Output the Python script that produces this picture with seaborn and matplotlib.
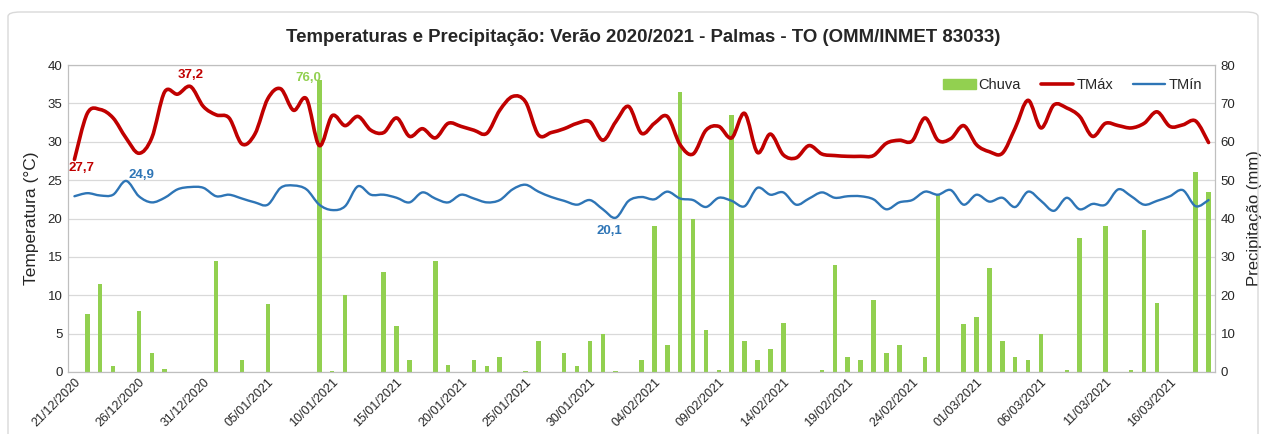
import numpy as np
import pandas as pd
import matplotlib
matplotlib.use('Agg')
import matplotlib.pyplot as plt
import seaborn as sns
from matplotlib.patches import Patch, FancyBboxPatch, PathPatch
from matplotlib.lines import Line2D
from matplotlib.path import Path

# Dias do verão 2020/2021 (21/12/2020 a 19/03/2021)
datas = pd.date_range('2020-12-21', '2021-03-19', freq='D')

# Temperatura máxima diária (°C)
tmax = [27.7, 33.7, 34.2, 33.1, 30.5, 28.5, 30.5, 36.5, 36.2, 37.2,
        34.6, 33.5, 33.1, 29.7, 31.0, 35.6, 36.9, 34.1, 35.6, 29.5,
        33.4, 32.1, 33.3, 31.5, 31.2, 33.1, 30.7, 31.7, 30.5, 32.4,
        32.0, 31.5, 31.1, 34.1, 35.9, 35.2, 30.9, 31.2, 31.7, 32.4,
        32.6, 30.2, 32.6, 34.6, 31.1, 32.4, 33.3, 29.6, 28.4, 31.5,
        32.0, 30.5, 33.7, 28.6, 31.0, 28.3, 27.9, 29.5, 28.4, 28.2,
        28.1, 28.1, 28.2, 29.8, 30.2, 30.1, 33.1, 30.2, 30.4, 32.1,
        29.6, 28.7, 28.5, 31.8, 35.4, 31.8, 34.8, 34.4, 33.3, 30.7,
        32.4, 32.1, 31.8, 32.4, 33.9, 32.0, 32.2, 32.7, 29.9]

# Temperatura mínima diária (°C)
tmin = [22.9, 23.3, 23.0, 23.1, 24.9, 22.9, 22.1, 22.7, 23.8, 24.1,
        24.0, 22.9, 23.1, 22.6, 22.1, 21.8, 24.0, 24.3, 23.8, 21.8,
        21.1, 21.6, 24.2, 23.1, 23.1, 22.7, 22.1, 23.4, 22.6, 22.1,
        23.1, 22.6, 22.1, 22.4, 23.8, 24.4, 23.5, 22.8, 22.3, 21.8,
        22.4, 21.2, 20.1, 22.3, 22.8, 22.5, 23.5, 22.6, 22.4, 21.5,
        22.7, 22.3, 21.6, 24.0, 23.1, 23.4, 21.8, 22.6, 23.4, 22.7,
        22.9, 22.9, 22.5, 21.2, 22.1, 22.4, 23.5, 23.1, 23.7, 21.8,
        23.1, 22.2, 22.7, 21.5, 23.5, 22.3, 21.0, 22.7, 21.2, 21.9,
        21.8, 23.8, 22.9, 21.8, 22.3, 22.9, 23.7, 21.6, 22.4]

# Chuva diária (mm)
chuva = [0, 15.0, 23.0, 1.6, 0, 16.0, 5.0, 0.8, 0, 0,
         0, 29.0, 0, 3.0, 0, 17.8, 0, 0, 0, 76.0,
         0.2, 20.0, 0, 0, 26.0, 12.0, 3.0, 0, 29.0, 1.8,
         0, 3.0, 1.6, 4.0, 0, 0.2, 8.2, 0, 5.0, 1.6,
         8.0, 9.8, 0.2, 0, 3.0, 38.0, 7.0, 73.0, 40.0, 11.0,
         0.6, 67.0, 8.0, 3.0, 6.0, 12.8, 0, 0, 0.6, 28.0,
         4.0, 3.0, 18.8, 5.0, 7.0, 0, 4.0, 46.0, 0, 12.6,
         14.4, 27.0, 8.0, 4.0, 3.0, 10.0, 0, 0.6, 35.0, 0,
         38.0, 0, 0.4, 37.0, 18.0, 0, 0, 52.0, 47.0]

cor_chuva = '#92D050'
cor_tmax = '#C00000'
cor_tmin = '#2E75B6'

df = pd.DataFrame({
    'dia': np.arange(len(datas)),
    'data': datas.strftime('%d/%m/%Y'),
    'tmax': tmax,
    'tmin': tmin,
    'chuva': chuva,
})


def linha_suave(a, x, y, cor, lw):
    """Linha suavizada (estilo Excel) com curvas de Bézier passando pelos pontos."""
    x = np.asarray(x, float)
    y = np.asarray(y, float)
    px = np.r_[x[0], x, x[-1]]
    py = np.r_[y[0], y, y[-1]]
    verts = [(x[0], y[0])]
    codes = [Path.MOVETO]
    for i in range(len(x) - 1):
        j = i + 1
        c1 = (px[j] + (px[j + 1] - px[j - 1]) / 6, py[j] + (py[j + 1] - py[j - 1]) / 6)
        c2 = (px[j + 1] - (px[j + 2] - px[j]) / 6, py[j + 1] - (py[j + 2] - py[j]) / 6)
        verts += [c1, c2, (x[j], y[j])]
        codes += [Path.CURVE4] * 3
    a.add_patch(PathPatch(Path(verts, codes), fill=False, edgecolor=cor,
                          lw=lw, capstyle='round', joinstyle='round'))


sns.set_theme(style='white')
plt.rcParams['font.family'] = ['Liberation Sans', 'DejaVu Sans']

W, H = 1265, 434
fig = plt.figure(figsize=(W / 100, H / 100), dpi=100)
fig.patches.append(FancyBboxPatch((8 / W, -0.05), 1250 / W, 1 - 12 / H + 0.05,
                                  boxstyle='round,pad=0,rounding_size=0.01',
                                  transform=fig.transFigure, fill=False,
                                  edgecolor='#D9D9D9', lw=1.0))

ax = fig.add_axes([68 / W, 1 - 372 / H, (1215 - 68) / W, (372 - 65) / H])
ax2 = ax.twinx()

# Barras de chuva (eixo secundário)
sns.barplot(data=df, x='dia', y='chuva', ax=ax2, color=cor_chuva,
            saturation=1, width=0.35, linewidth=0, errorbar=None)
ax2.set_ylim(0, 80)
ax2.set_yticks(range(0, 81, 10))
ax2.yaxis.grid(True, color='#D9D9D9', lw=0.9)
ax2.set_axisbelow(True)
ax2.set_ylabel('Precipitação (mm)', fontsize=12, labelpad=8)

# Linhas de temperatura (eixo principal, por cima das barras)
linha_suave(ax, df['dia'], df['tmax'], cor_tmax, 2.6)
linha_suave(ax, df['dia'], df['tmin'], cor_tmin, 1.7)
ax.set_zorder(ax2.get_zorder() + 1)
ax.patch.set_visible(False)
ax.set_ylim(0, 40)
ax.set_yticks(range(0, 41, 5))
ax.set_ylabel('Temperatura (°C)', fontsize=12.5, labelpad=6)
ax.set_xlabel('')

ax.set_xlim(-0.5, len(df) - 0.5)
ax.set_xticks(df['dia'][::5])
ax.set_xticklabels(df['data'][::5], rotation=45, ha='right',
                   rotation_mode='anchor', fontsize=9)

for a in (ax, ax2):
    a.tick_params(axis='both', length=0, labelsize=9.5, colors='#262626', pad=4)
    for s in a.spines.values():
        s.set_color('#BFBFBF')
        s.set_linewidth(0.8)
ax.tick_params(axis='x', labelsize=9, pad=3)

# Rótulos dos extremos
def rotulo(a, i, serie, cor, dx, dy):
    a.annotate(f'{serie[i]:.1f}'.replace('.', ','), (i, serie[i]),
               xytext=(dx, dy), textcoords='offset pixels', ha='center',
               va='center', color=cor, fontsize=9.5, fontweight='bold')

rotulo(ax, 0, tmax, cor_tmax, 7, -9)
rotulo(ax, 9, tmax, cor_tmax, 0, 11)
rotulo(ax, 4, tmin, cor_tmin, 15, 6)
rotulo(ax, 42, tmin, cor_tmin, -6, -13)
rotulo(ax2, 19, chuva, cor_chuva, -11, 2)

handles = [Patch(color=cor_chuva), Line2D([], [], color=cor_tmax, lw=2.6),
           Line2D([], [], color=cor_tmin, lw=1.7)]
ax.legend(handles, ['Chuva', 'TMáx', 'TMín'], loc='upper right', ncol=3,
          frameon=False, fontsize=10.5, bbox_to_anchor=(1.0, 1.0),
          handlelength=2.2, columnspacing=1.4, handletextpad=0.2)

fig.suptitle('Temperaturas e Precipitação: Verão 2020/2021 - Palmas - TO (OMM/INMET 83033)',
             x=(283 + 1003) / 2 / W, y=1 - 37 / H, va='center',
             fontsize=13.4, fontweight='bold')

fig.savefig('out.png', dpi=100)
